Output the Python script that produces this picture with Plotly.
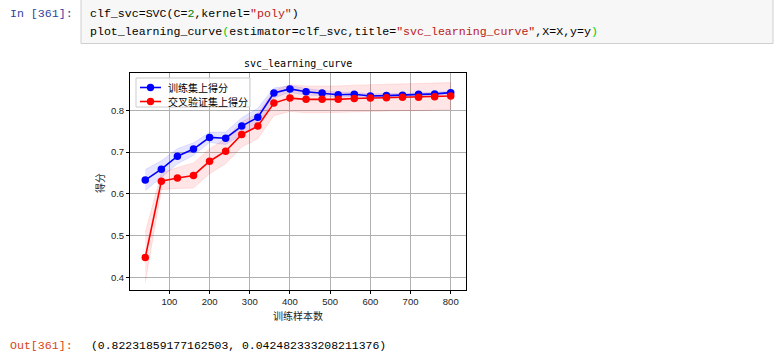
import plotly.graph_objects as go

# ---- data ----
train_sizes = [40, 80, 120, 160, 200, 240, 280, 320, 360, 400,
               440, 480, 520, 560, 600, 640, 680, 720, 760, 800]
train_mean = [0.633, 0.659, 0.690, 0.707, 0.735, 0.733, 0.762, 0.783, 0.841, 0.851,
              0.844, 0.841, 0.837, 0.838, 0.834, 0.835, 0.836, 0.838, 0.839, 0.842]
train_std = [0.025, 0.020, 0.018, 0.015, 0.012, 0.015, 0.020, 0.022, 0.012, 0.008,
             0.008, 0.006, 0.006, 0.005, 0.005, 0.005, 0.004, 0.004, 0.004, 0.004]
test_mean = [0.448, 0.630, 0.638, 0.644, 0.678, 0.702, 0.742, 0.762, 0.817, 0.829,
             0.826, 0.826, 0.826, 0.828, 0.829, 0.830, 0.831, 0.831, 0.832, 0.834]
test_std = [0.060, 0.020, 0.025, 0.030, 0.030, 0.030, 0.030, 0.030, 0.030, 0.032,
            0.032, 0.032, 0.032, 0.032, 0.032, 0.032, 0.032, 0.032, 0.032, 0.032]

title_text = "svc_learning_curve"
xlabel = "训练样本数"
ylabel = "得分"
legend_names = ["训练集上得分", "交叉验证集上得分"]
series_colors = ["#0000ff", "#ff0000"]
x_ticks = [100, 200, 300, 400, 500, 600, 700, 800]
y_ticks = [0.4, 0.5, 0.6, 0.7, 0.8]

prompt_in = "In [361]:"
prompt_out = "Out[361]:"
out_text = "(0.82231859177162503, 0.042482333208211376)"

# ---- geometry helpers (page pixels -> paper coords) ----
W, H = 775, 354
L, R, T, B = 130, 309, 73, 64
PW, PH = W - L - R, H - T - B


def px(x):
    return (x - L) / PW


def py(y):
    return (H - B - y) / PH


fig = go.Figure()

# std bands
for mean, std, col in [(train_mean, train_std, "0,0,255"), (test_mean, test_std, "255,0,0")]:
    upper = [m + s for m, s in zip(mean, std)]
    lower = [m - s for m, s in zip(mean, std)]
    fig.add_trace(go.Scatter(
        x=train_sizes + train_sizes[::-1], y=upper + lower[::-1],
        fill="toself", fillcolor=f"rgba({col},0.1)",
        line=dict(color=f"rgba({col},0.12)", width=0.8),
        mode="lines", showlegend=False, hoverinfo="skip"))

for mean, name, col in [(train_mean, legend_names[0], series_colors[0]),
                        (test_mean, legend_names[1], series_colors[1])]:
    fig.add_trace(go.Scatter(x=train_sizes, y=mean, mode="lines+markers",
                             name=name, showlegend=False,
                             line=dict(color=col, width=1.6),
                             marker=dict(color=col, size=7.5)))

tickfont = dict(family="Liberation Sans Narrow, Liberation Sans, sans-serif", size=9.5, color="#222222")
axis_common = dict(showline=True, linecolor="#000000", linewidth=1, mirror=True,
                   showgrid=True, gridcolor="#b0b0b0", gridwidth=1,
                   ticks="outside", ticklen=3, tickcolor="#000000", tickwidth=1,
                   zeroline=False, tickfont=tickfont)

fig.update_xaxes(range=[2, 838], tickvals=x_ticks, ticktext=[str(v) for v in x_ticks], **axis_common)
fig.update_yaxes(range=[0.370, 0.889], tickvals=y_ticks,
                 ticktext=[f"{v:.1f}" for v in y_ticks], **axis_common)

anns = []
shapes = []
# plot title / labels
anns.append(dict(x=px(298), y=py(64), xref="paper", yref="paper", text=title_text,
                 showarrow=False, xanchor="center", yanchor="middle",
                 font=dict(family="DejaVu Sans Mono", size=10, color="#000000")))
anns.append(dict(x=px(298), y=py(315), xref="paper", yref="paper", text=xlabel,
                 showarrow=False, xanchor="center", yanchor="middle",
                 font=dict(family="Noto Sans CJK SC", size=10, color="#222222")))
anns.append(dict(x=px(99), y=py(183), xref="paper", yref="paper", text=ylabel,
                 showarrow=False, xanchor="center", yanchor="middle", textangle=-90,
                 font=dict(family="Noto Sans CJK SC", size=10, color="#222222")))

# legend (drawn compactly, matplotlib style)
shapes.append(dict(type="rect", xref="paper", yref="paper",
                   x0=px(136), x1=px(250), y0=py(107), y1=py(78),
                   fillcolor="rgba(255,255,255,0.8)", line=dict(color="#cccccc", width=1)))
for i, (name, col) in enumerate(zip(legend_names, series_colors)):
    yy = 87.5 + i * 14
    shapes.append(dict(type="line", xref="paper", yref="paper",
                       x0=px(140), x1=px(161), y0=py(yy), y1=py(yy),
                       line=dict(color=col, width=1.6)))
    shapes.append(dict(type="circle", xref="paper", yref="paper",
                       x0=px(150.5 - 3.7), x1=px(150.5 + 3.7), y0=py(yy + 3.7), y1=py(yy - 3.7),
                       fillcolor=col, line=dict(color=col, width=0)))
    anns.append(dict(x=px(166), y=py(yy), xref="paper", yref="paper", text=name,
                     showarrow=False, xanchor="left", yanchor="middle",
                     font=dict(family="Noto Sans CJK SC", size=10, color="#000000")))

# notebook text
mono = "Liberation Mono, DejaVu Sans Mono, monospace"
anns.append(dict(x=px(75), y=py(14), xref="paper", yref="paper", text=prompt_in,
                 showarrow=False, xanchor="right", yanchor="middle",
                 font=dict(family=mono, size=11.6, color="#303F9F")))
code1 = ('clf_svc=SVC(C=<span style="color:#008000">2</span>,kernel='
         '<span style="color:#BA2121">"poly"</span>)')
code2 = ('plot_learning_curve<span style="color:#00cc00">(</span>estimator=clf_svc,title='
         '<span style="color:#BA2121">"svc_learning_curve"</span>,X=X,y=y'
         '<span style="color:#00cc00">)</span>')
anns.append(dict(x=px(88), y=py(14), xref="paper", yref="paper", text=code1,
                 showarrow=False, xanchor="left", yanchor="middle",
                 font=dict(family=mono, size=11.6, color="#000000")))
anns.append(dict(x=px(88), y=py(31.5), xref="paper", yref="paper", text=code2,
                 showarrow=False, xanchor="left", yanchor="middle",
                 font=dict(family=mono, size=11.6, color="#000000")))
anns.append(dict(x=px(75), y=py(345.5), xref="paper", yref="paper", text=prompt_out,
                 showarrow=False, xanchor="right", yanchor="middle",
                 font=dict(family=mono, size=11.6, color="#D84315")))
anns.append(dict(x=px(89), y=py(345.5), xref="paper", yref="paper", text=out_text,
                 showarrow=False, xanchor="left", yanchor="middle",
                 font=dict(family=mono, size=11.45, color="#000000")))

shapes.append(dict(type="rect", xref="paper", yref="paper",
                   x0=px(81), x1=px(773), y0=py(43.5), y1=py(-5),
                   fillcolor="#f7f7f7", line=dict(color="#cfcfcf", width=1), layer="below"))

fig.update_layout(
    width=W, height=H,
    margin=dict(l=L, r=R, t=T, b=B, pad=0),
    paper_bgcolor="#ffffff", plot_bgcolor="#ffffff",
    annotations=anns, shapes=shapes,
    showlegend=False,
)

fig.write_html("out.html")
